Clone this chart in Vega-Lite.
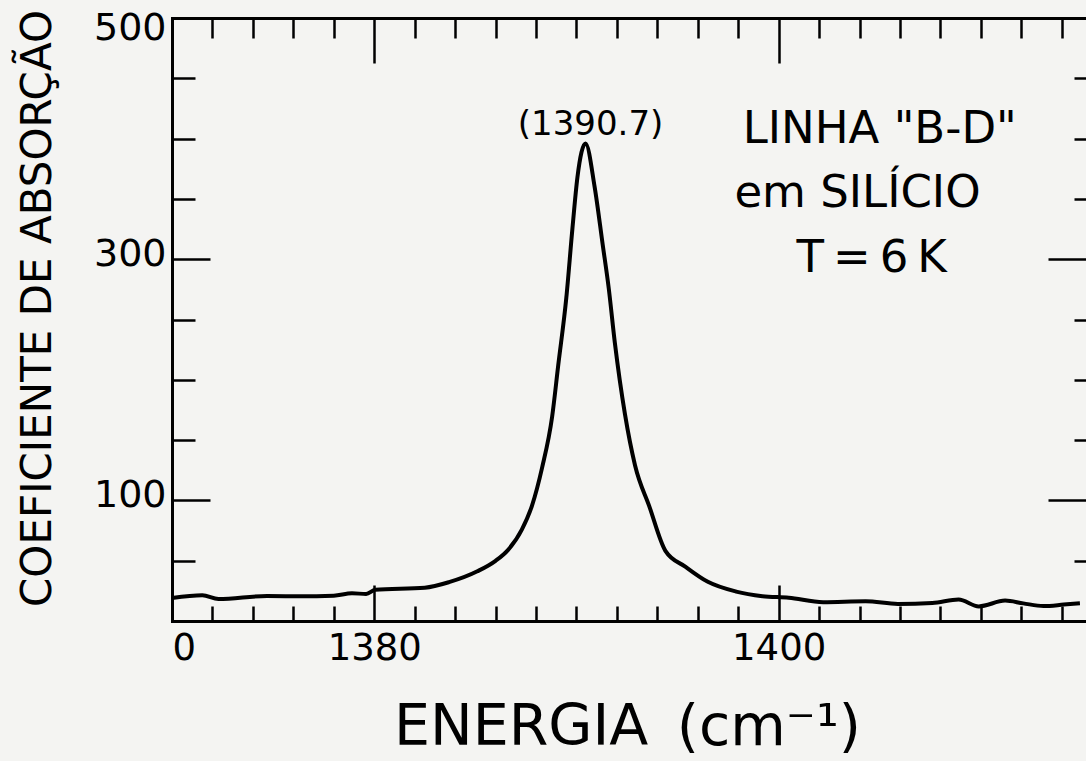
{
  "$schema": "https://vega.github.io/schema/vega-lite/v6.json",
  "width": 914,
  "height": 603,
  "autosize": {"type": "none"},
  "padding": {"left": 172, "top": 18, "right": 0, "bottom": 140},
  "background": "#f4f4f2",
  "config": {
    "view": {"stroke": null},
    "font": "DejaVu Sans",
    "axis": {
      "grid": false,
      "tickColor": "black",
      "domainColor": "black",
      "labelColor": "black",
      "titleColor": "black",
      "labelFont": "DejaVu Sans",
      "titleFont": "DejaVu Sans",
      "titleFontWeight": "normal",
      "tickWidth": 2.5,
      "domainWidth": 3,
      "domainCap": "square"
    }
  },
  "datasets": {
    "curve": [
      {"energia": 1370.0, "coef": 19.1},
      {"energia": 1371.5, "coef": 21.3},
      {"energia": 1372.3, "coef": 18.2},
      {"energia": 1374.7, "coef": 20.7},
      {"energia": 1376.3, "coef": 20.5},
      {"energia": 1378.0, "coef": 21.0},
      {"energia": 1378.9, "coef": 23.0},
      {"energia": 1379.6, "coef": 22.4},
      {"energia": 1380.05, "coef": 25.9},
      {"energia": 1382.5, "coef": 27.6},
      {"energia": 1383.7, "coef": 32.2},
      {"energia": 1385.1, "coef": 41.2},
      {"energia": 1386.0, "coef": 49.9},
      {"energia": 1386.6, "coef": 58.6},
      {"energia": 1387.3, "coef": 75.8},
      {"energia": 1387.8, "coef": 95.5},
      {"energia": 1388.3, "coef": 127},
      {"energia": 1388.8, "coef": 169.6},
      {"energia": 1389.1, "coef": 212},
      {"energia": 1389.5, "coef": 268},
      {"energia": 1389.8, "coef": 325},
      {"energia": 1390.05, "coef": 368},
      {"energia": 1390.45, "coef": 396},
      {"energia": 1390.9, "coef": 360},
      {"energia": 1391.3, "coef": 312},
      {"energia": 1391.6, "coef": 275.6},
      {"energia": 1391.9, "coef": 230.7},
      {"energia": 1392.4, "coef": 171.5},
      {"energia": 1392.9, "coef": 129},
      {"energia": 1393.6, "coef": 95.3},
      {"energia": 1394.4, "coef": 58.2},
      {"energia": 1395.4, "coef": 44.9},
      {"energia": 1396.5, "coef": 32.5},
      {"energia": 1397.9, "coef": 24.4},
      {"energia": 1399.2, "coef": 20.6},
      {"energia": 1400.5, "coef": 19.3},
      {"energia": 1402.2, "coef": 15.6},
      {"energia": 1404.3, "coef": 16.3},
      {"energia": 1405.9, "coef": 14.2},
      {"energia": 1407.6, "coef": 14.9},
      {"energia": 1408.9, "coef": 17.8},
      {"energia": 1409.9, "coef": 12.1},
      {"energia": 1411.2, "coef": 16.9},
      {"energia": 1412.1, "coef": 14.6},
      {"energia": 1413.1, "coef": 12.4},
      {"energia": 1414.1, "coef": 13.6},
      {"energia": 1414.9, "coef": 14.7}
    ],
    "peak": [
      {"energia": 1390.7, "coef": 403, "texto": "(1390.7)"}
    ],
    "notes": [
      {"energia": 1405.0, "coef": 396, "texto": "LINHA \"B-D\""},
      {"energia": 1403.9, "coef": 343, "texto": "em SILÍCIO"},
      {"energia": 1404.6, "coef": 289, "texto": "T\u2009=\u20096\u2009K"}
    ]
  },
  "resolve": {"axis": {"x": "independent", "y": "independent"}},
  "layer": [
    {
      "data": {"name": "curve"},
      "mark": {"type": "line", "color": "black", "strokeWidth": 4, "interpolate": "monotone"},
      "encoding": {
        "x": {
          "field": "energia", "type": "quantitative",
          "scale": {"domain": [1370, 1415.2], "nice": false, "zero": false},
          "axis": {
            "orient": "bottom", "title": null, "labels": false, "domain": true,
            "values": [1372,1374,1376,1378,1380,1382,1384,1386,1388,1390,1392,1394,1396,1398,1400,1402,1404,1406,1408,1410,1412,1414],
            "tickSize": {"condition": {"test": "datum.value === 1380 || datum.value === 1400", "value": -36}, "value": -15}
          }
        },
        "y": {
          "field": "coef", "type": "quantitative",
          "scale": {"domain": [0, 500], "nice": false, "zero": true},
          "axis": {
            "orient": "left", "title": null, "labels": false, "domain": true,
            "values": [50,100,150,200,250,300,350,400,450],
            "tickSize": {"condition": {"test": "datum.value === 100 || datum.value === 300", "value": -38}, "value": -23}
          }
        }
      }
    },
    {
      "data": {"name": "curve"},
      "mark": {"type": "line", "opacity": 0},
      "encoding": {
        "x": {
          "field": "energia", "type": "quantitative",
          "scale": {"domain": [1370, 1415.2], "nice": false, "zero": false},
          "axis": {
            "orient": "bottom", "ticks": false, "domain": false,
            "values": [1370, 1380, 1400], "format": "d",
            "labelExpr": "datum.value === 1370 ? '0' : datum.label",
            "labelFlush": true, "labelOverlap": false,
            "labelFontSize": 37, "labelPadding": 9,
            "title": "ENERGIA\u2002(cm\u207b\u00b9)",
            "titleFontSize": 57, "titleX": 455, "titleY": 123,
            "titleAlign": "center", "titleBaseline": "alphabetic"
          }
        },
        "y": {
          "field": "coef", "type": "quantitative",
          "scale": {"domain": [0, 500], "nice": false, "zero": true},
          "axis": {
            "orient": "left", "ticks": false, "domain": false,
            "values": [100, 300, 500], "format": "d",
            "labelFontSize": 38, "labelPadding": 6, "labelOverlap": false,
            "labelOffset": {"condition": {"test": "datum.value === 500", "value": 10}, "value": -5},
            "title": "COEFICIENTE DE ABSORÇÃO",
            "titleFontSize": 42, "titleAngle": -90, "titleX": -122, "titleY": 290,
            "titleAlign": "center", "titleBaseline": "alphabetic"
          }
        }
      }
    },
    {
      "data": {"name": "curve"},
      "mark": {"type": "line", "opacity": 0},
      "encoding": {
        "x": {
          "field": "energia", "type": "quantitative",
          "scale": {"domain": [1370, 1415.2], "nice": false, "zero": false},
          "axis": {
            "orient": "top", "title": null, "labels": false, "domain": true,
            "values": [1372,1374,1376,1378,1380,1382,1384,1386,1388,1390,1392,1394,1396,1398,1400,1402,1404,1406,1408,1410,1412,1414],
            "tickSize": {"condition": {"test": "datum.value === 1380 || datum.value === 1400", "value": -45}, "value": -20}
          }
        },
        "y": {
          "field": "coef", "type": "quantitative",
          "scale": {"domain": [0, 500], "nice": false, "zero": true},
          "axis": {
            "orient": "right", "title": null, "labels": false, "domain": false,
            "values": [50,100,150,200,250,300,350,400,450],
            "tickSize": {"condition": {"test": "datum.value === 100 || datum.value === 300", "value": -38}, "value": -12}
          }
        }
      }
    },
    {
      "data": {"name": "peak"},
      "mark": {"type": "text", "fontSize": 34, "align": "center", "baseline": "alphabetic", "color": "black", "font": "DejaVu Sans"},
      "encoding": {
        "x": {"field": "energia", "type": "quantitative", "scale": {"domain": [1370, 1415.2], "nice": false, "zero": false}, "axis": null},
        "y": {"field": "coef", "type": "quantitative", "scale": {"domain": [0, 500], "nice": false, "zero": true}, "axis": null},
        "text": {"field": "texto"}
      }
    },
    {
      "data": {"name": "notes"},
      "mark": {"type": "text", "fontSize": 45, "align": "center", "baseline": "alphabetic", "color": "black", "font": "DejaVu Sans"},
      "encoding": {
        "x": {"field": "energia", "type": "quantitative", "scale": {"domain": [1370, 1415.2], "nice": false, "zero": false}, "axis": null},
        "y": {"field": "coef", "type": "quantitative", "scale": {"domain": [0, 500], "nice": false, "zero": true}, "axis": null},
        "text": {"field": "texto"}
      }
    }
  ]
}
